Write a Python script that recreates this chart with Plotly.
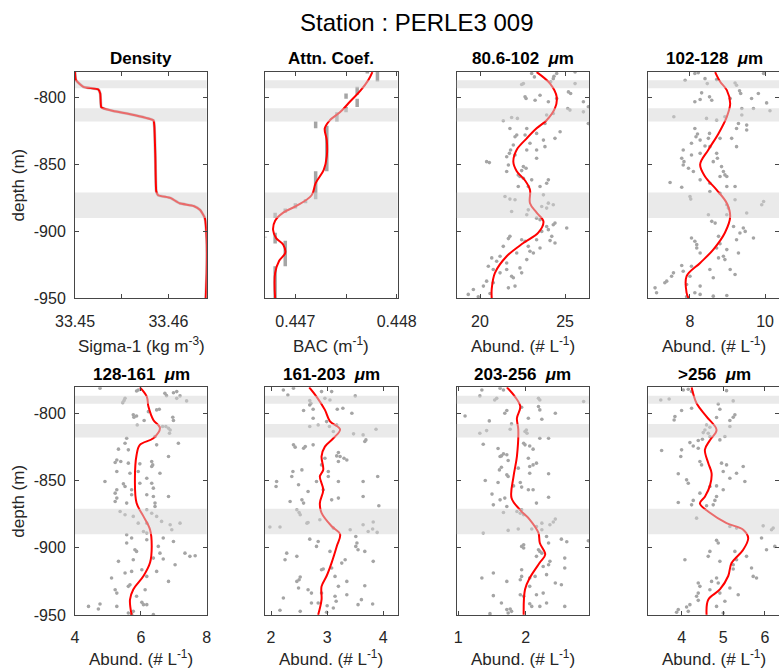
import plotly.graph_objects as go

W, H = 779, 671
FONT = "Liberation Sans, Arial, Helvetica, sans-serif"
AX = "rgb(70,70,70)"
GREY = "rgb(165,165,165)"

# ---------------- data ----------------
title_text = "Station : PERLE3 009"
panel_titles = ["Density", "Attn. Coef.", "80.6-102&nbsp; <i>μ</i>m", "102-128&nbsp; <i>μ</i>m",
                "128-161&nbsp; <i>μ</i>m", "161-203&nbsp; <i>μ</i>m", "203-256&nbsp; <i>μ</i>m",
                "&gt;256&nbsp; <i>μ</i>m"]
x_labels = ["Sigma-1 (kg m<sup>-3</sup>)", "BAC (m<sup>-1</sup>)", "Abund. (# L<sup>-1</sup>)",
            "Abund. (# L<sup>-1</sup>)", "Abund. (# L<sup>-1</sup>)", "Abund. (# L<sup>-1</sup>)",
            "Abund. (# L<sup>-1</sup>)", "Abund. (# L<sup>-1</sup>)"]
y_label = "depth (m)"
depth_ticks = [-950, -900, -850, -800]
depth_range = [-950, -780.7]
x_ranges = [[33.45, 33.4641], [0.4467, 0.44801], [18.63, 26.41], [6.89, 10.37],
            [4, 8], [1.893, 4.256], [0.976, 2.94], [3.2, 6.34]]
x_tickvals = [[33.45, 33.455, 33.46], [0.447, 0.4475, 0.448], [20, 25], [8, 10],
              [4, 6, 8], [2, 3, 4], [1, 2], [4, 5, 6]]
x_ticktext = [["33.45", "", "33.46"], ["0.447", "", "0.448"], ["20", "25"], ["8", "10"],
              ["4", "6", "8"], ["2", "3", "4"], ["1", "2"], ["4", "5", "6"]]

# grey bands (depth intervals)
band_top = [-787, -808, -871]
band_bot = [-793, -818, -890]

# Density profile
dens_depth = [-781, -787, -792, -794, -797, -807, -808, -810, -813, -817, -822, -844, -870,
              -873, -875, -879, -881, -884, -890, -906, -931, -950]
dens_val = [33.4500, 33.4501, 33.4509, 33.4525, 33.4527, 33.4528, 33.4530, 33.4541, 33.4563,
            33.4584, 33.4585, 33.4586, 33.4587, 33.4589, 33.4602, 33.4612, 33.4627, 33.4634,
            33.4639, 33.4641, 33.4641, 33.4640]

# Attenuation: raw (quantized) segments and smoothed line
attn_seg_val = [0.44771, 0.44781, 0.44761, 0.44750, 0.44761, 0.44750, 0.44741, 0.44720, 0.44731,
                0.44720, 0.44710, 0.44700, 0.44690, 0.44680, 0.44680, 0.44690, 0.44680, 0.44670]
attn_seg_top = [-781, -781, -792, -797, -801, -807, -811, -818, -821, -855, -876, -879, -883,
                -886, -901, -907, -926, -904]
attn_seg_bot = [-782, -788, -798, -801, -807, -811, -818, -823, -855, -876, -879, -883, -886,
                -890, -909, -926, -950, -904.5]
attn_line_depth = [-781, -787, -795, -803, -811, -817, -823, -832, -844, -854, -864, -873, -881,
                   -886, -892, -899, -905, -910, -916, -922, -931, -950]
attn_line_val = [0.44776, 0.44772, 0.44764, 0.44754, 0.44744, 0.44734, 0.44729, 0.44731, 0.44731,
                 0.44728, 0.44720, 0.44716, 0.44701, 0.44688, 0.44680, 0.44678, 0.44681, 0.44688,
                 0.44690, 0.44684, 0.44680, 0.44680]

# 80.6-102 um
s3_depth = [-782.1, -784.6, -782.1, -784.1, -780.9, -785.9, -788.3, -789.6, -789.6, -790.3, -799.5,
            -800.7, -802.0, -795.8, -797.0, -798.3, -800.7, -803.2, -808.2, -809.4, -810.7, -806.9,
            -819.4, -803.2, -814.9, -815.6, -817.4, -823.1, -823.1, -811.9, -813.1, -828.0, -829.3,
            -828.0, -826.8, -831.8, -830.5, -825.6, -819.4, -835.5, -839.2, -841.7, -842.9, -839.2,
            -839.2, -836.7, -834.2, -844.2, -845.4, -847.9, -848.6, -850.4, -851.6, -852.8, -855.3,
            -857.8, -859.0, -854.6, -860.3, -861.5, -861.5, -864.0, -866.5, -866.5, -866.5, -873.9,
            -875.9, -876.4, -872.7, -878.9, -880.1, -881.4, -882.6, -883.9, -885.1, -887.6, -890.1,
            -891.3, -893.8, -895.0, -896.3, -897.5, -898.7, -900.0, -903.7, -903.7, -905.4, -906.2,
            -907.4, -906.2, -906.9, -908.7, -911.2, -911.2, -912.4, -914.9, -916.1, -916.1, -919.8,
            -918.6, -922.3, -923.6, -921.1, -927.3, -928.5, -931.0, -933.5, -934.7, -926.0, -928.5,
            -931.0, -940.9, -937.2, -938.4, -942.2, -940.9, -943.4, -947.1, -948.9, -946.4]
s3_val = [23.04, 23.20, 24.51, 24.35, 25.59, 24.31, 24.16, 25.59, 22.55, 22.45, 22.65,
          22.71, 23.24, 25.20, 25.33, 23.53, 24.51, 26.08, 25.16, 25.29, 26.08, 26.37,
          26.37, 24.02, 21.86, 22.20, 21.37, 21.76, 22.75, 24.31, 23.92, 22.16, 22.06,
          22.65, 23.33, 23.73, 24.41, 24.71, 23.82, 21.96, 21.80, 21.73, 22.06, 22.75,
          23.33, 23.82, 22.94, 21.57, 23.33, 20.39, 20.55, 21.67, 22.55, 22.71, 21.57,
          22.25, 22.35, 22.45, 22.55, 23.04, 24.02, 23.92, 22.84, 22.25, 23.53, 21.47,
          21.76, 22.06, 23.73, 24.02, 24.31, 23.63, 23.92, 22.84, 21.86, 22.75, 23.33,
          23.53, 24.41, 24.31, 23.92, 25.10, 24.02, 23.63, 24.22, 21.76, 21.67, 22.45,
          22.65, 23.33, 24.12, 24.41, 21.37, 22.84, 23.53, 22.94, 23.14, 22.16, 20.69,
          21.18, 20.98, 21.57, 22.75, 22.35, 21.57, 21.18, 21.86, 21.96, 20.49, 20.78,
          22.45, 20.20, 20.39, 20.78, 21.67, 22.06, 19.61, 19.31, 19.90, 20.59]
s3_line_depth = [-781, -789.6, -799.5, -808, -817, -823, -830.5, -839, -848, -855, -862, -869,
                 -879, -886, -892.6, -901, -908.7, -918.6, -931, -943, -950]
s3_line_val = [23.33, 24.12, 24.51, 24.41, 23.92, 23.33, 22.75, 22.16, 21.96, 22.16, 22.65, 22.94,
               22.94, 23.33, 23.73, 23.43, 22.55, 21.57, 20.88, 20.69, 20.69]

# 102-128 um
s4_depth = [-781.4, -782.1, -787.1, -785.9, -786.6, -789.1, -790.8, -782.1, -789.6, -796.5, -799.5,
            -802.0, -803.2, -795.0, -797.0, -797.0, -800.7, -804.0, -809.9, -808.2, -808.2, -801.5,
            -800.7, -814.4, -815.6, -816.9, -814.4, -813.1, -819.4, -823.1, -820.6, -824.3, -823.1,
            -827.3, -829.3, -831.8, -826.8, -830.5, -830.5, -836.2, -836.7, -836.7, -830.5, -834.2,
            -839.2, -845.4, -847.9, -850.4, -852.8, -855.3, -842.9, -841.7, -841.7, -845.4, -847.9,
            -859.0, -855.3, -857.8, -859.0, -851.6, -863.5, -867.0, -873.9, -875.9, -861.5, -864.0,
            -866.5, -866.5, -871.5, -870.2, -880.1, -882.6, -877.7, -880.1, -876.4, -886.3, -887.6,
            -892.5, -893.8, -887.6, -896.3, -897.5, -900.0, -901.2, -906.2, -904.9, -903.7, -909.2,
            -904.9, -907.4, -912.4, -916.1, -912.4, -918.6, -919.8, -921.1, -916.1, -913.6, -909.9,
            -925.5, -926.0, -929.8, -928.5, -928.5, -932.2, -933.5, -934.7, -931.0, -933.5, -937.2,
            -938.4, -942.2, -945.9, -939.7, -940.9, -945.9, -948.4, -947.1, -947.9, -948.9]
s4_val = [8.22, 8.13, 7.87, 8.40, 8.71, 9.20, 9.24, 9.96, 8.46, 8.31, 8.52,
          8.58, 8.13, 9.32, 9.35, 9.82, 9.64, 10.04, 10.13, 9.38, 9.69, 8.27,
          9.07, 7.57, 8.44, 8.71, 8.93, 9.38, 9.29, 9.24, 9.51, 9.51, 8.13,
          8.20, 8.16, 8.27, 8.52, 8.49, 8.80, 8.40, 8.53, 9.24, 9.11, 8.04,
          7.82, 7.78, 7.84, 7.82, 7.96, 8.09, 8.04, 8.27, 8.71, 8.73, 8.62,
          8.80, 8.89, 8.93, 8.98, 8.84, 7.47, 7.78, 8.00, 8.02, 8.27, 8.53,
          8.98, 9.20, 8.80, 8.53, 8.98, 9.02, 9.96, 9.91, 9.20, 9.51, 8.49,
          8.58, 8.67, 8.98, 9.16, 9.42, 9.47, 9.33, 9.24, 9.69, 8.76, 8.80,
          8.04, 8.13, 8.18, 8.27, 8.71, 8.89, 8.76, 8.93, 9.29, 8.98, 8.18,
          7.78, 8.04, 7.82, 8.53, 9.07, 9.20, 8.00, 8.62, 7.56, 7.51, 7.38,
          7.33, 7.07, 7.11, 7.91, 8.27, 8.13, 8.62, 8.27, 8.98, 7.91]
s4_line_depth = [-781, -788, -794.5, -804.5, -814.4, -826.8, -839, -850, -859, -869, -879, -889,
                 -901, -913.6, -923.6, -933.5, -946, -950]
s4_line_val = [8.67, 8.80, 8.98, 9.07, 8.98, 8.76, 8.49, 8.27, 8.40, 8.71, 8.98, 9.07,
               8.93, 8.62, 8.27, 7.91, 7.91, 7.96]

# 128-161 um
s5_depth = [-781.4, -783.4, -782.7, -785.2, -786.9, -784.7, -783.9, -787.1, -790.8, -788.9, -788.9,
            -790.6, -792.1, -797.5, -797.0, -798.8, -801.2, -802.0, -803.0, -805.4, -803.0, -805.4,
            -808.7, -809.9, -809.9, -811.1, -814.9, -812.4, -817.3, -818.6, -822.3, -823.5, -822.3,
            -826.7, -827.2, -832.2, -834.7, -836.6, -835.9, -837.1, -837.6, -835.9, -839.6, -838.4,
            -843.3, -844.6, -843.3, -844.6, -850.7, -852.5, -854.5, -852.0, -848.3, -852.0, -855.7,
            -856.9, -859.4, -856.9, -860.6, -860.6, -861.9, -861.9, -863.1, -865.6, -866.8, -869.3,
            -866.8, -871.8, -873.0, -876.7, -875.5, -881.7, -881.7, -874.3, -876.7, -880.4, -881.7,
            -886.6, -882.9, -887.9, -889.1, -890.3, -892.8, -892.8, -895.3, -894.1, -896.5, -899.0,
            -901.5, -902.7, -904.0, -904.0, -907.7, -910.1, -908.9, -908.4, -912.6, -906.4, -905.9,
            -916.3, -918.8, -917.6, -917.6, -921.3, -922.5, -925.0, -927.5, -928.7, -931.2, -931.2,
            -933.7, -936.1, -940.6, -942.3, -942.3, -943.6, -945.5, -943.6, -941.8, -947.3, -948.5,
            -949.7, -949.7]
s5_val = [4.76, 5.87, 5.92, 6.73, 6.78, 6.99, 7.09, 7.19, 7.39, 7.09, 5.52,
          5.49, 5.45, 6.48, 6.56, 6.23, 5.77, 5.87, 5.79, 6.10, 6.97, 6.99,
          5.89, 6.66, 6.76, 6.84, 6.87, 6.89, 6.43, 5.57, 5.52, 6.48, 7.14,
          5.32, 5.62, 6.84, 5.27, 5.22, 5.39, 5.62, 5.97, 6.33, 6.33, 6.36,
          5.27, 5.67, 5.92, 6.58, 4.91, 5.47, 5.52, 5.97, 6.18, 6.33, 6.38,
          5.27, 5.22, 5.72, 5.72, 6.18, 6.38, 6.84, 5.27, 5.22, 6.43, 6.43,
          5.57, 6.18, 5.37, 5.77, 5.52, 5.92, 6.18, 6.33, 6.48, 6.63, 7.19,
          6.94, 6.89, 6.08, 6.18, 5.57, 5.72, 6.68, 6.99, 6.18, 5.57, 6.53,
          5.82, 5.87, 6.58, 7.34, 6.38, 5.32, 5.77, 6.68, 7.04, 7.49, 7.65,
          6.03, 5.52, 5.72, 6.48, 6.18, 5.11, 6.84, 5.67, 5.62, 6.13, 5.22,
          5.27, 5.87, 6.03, 6.08, 6.18, 5.27, 4.71, 4.41, 4.76, 5.77, 5.62,
          5.72, 6.38]
s5_line_depth = [-780.7, -787.6, -795, -805, -811, -818.6, -823.5, -831, -849.5, -866.8, -876.7,
                 -886.6, -899, -911, -921, -931, -938.6, -949.8]
s5_line_val = [5.97, 6.18, 6.23, 6.38, 6.58, 6.38, 5.97, 5.87, 5.82, 5.87, 6.08,
               6.28, 6.33, 6.28, 6.08, 5.77, 5.67, 5.72]

# 161-203 um
s6_depth = [-782.7, -781.4, -786.4, -790.6, -792.6, -793.8, -783.9, -783.9, -788.9, -790.1, -787.1,
            -798.0, -797.0, -797.0, -796.3, -800.0, -803.7, -809.9, -808.7, -806.2, -809.9, -808.7,
            -813.6, -815.3, -816.1, -819.8, -821.0, -811.9, -823.5, -825.2, -826.0, -824.8, -823.5,
            -829.2, -832.2, -833.4, -834.7, -835.9, -831.7, -833.4, -838.4, -842.1, -843.3, -847.0,
            -843.3, -847.0, -850.7, -850.7, -854.5, -853.2, -850.7, -850.7, -847.0, -856.9, -858.2,
            -865.6, -864.4, -866.8, -864.4, -863.1, -861.9, -868.8, -871.8, -873.8, -875.5, -881.7,
            -881.2, -884.6, -884.6, -879.2, -885.4, -882.9, -880.9, -886.1, -887.9, -888.6, -886.6,
            -893.6, -895.3, -891.6, -896.5, -899.0, -899.0, -901.5, -904.0, -908.9, -906.4, -902.7,
            -902.7, -910.1, -908.9, -911.4, -915.1, -915.8, -916.3, -921.3, -921.8, -923.8, -925.0,
            -929.9, -931.2, -933.7, -933.7, -925.0, -928.7, -928.2, -938.6, -942.3, -936.1, -939.8,
            -943.1, -944.8, -941.1, -941.1, -937.4, -946.5, -947.3, -948.0, -941.8, -934.9]
s6_val = [2.22, 2.40, 2.30, 2.69, 2.71, 2.69, 2.90, 3.08, 2.96, 3.05, 3.50,
          2.58, 2.75, 3.18, 3.28, 3.44, 2.75, 2.69, 2.84, 2.99, 3.04, 3.17,
          3.11, 3.47, 3.64, 3.69, 3.67, 3.87, 2.40, 2.43, 2.58, 2.61, 2.75,
          3.20, 3.23, 3.30, 3.35, 3.20, 3.17, 2.96, 2.90, 2.55, 2.39, 2.37,
          3.02, 3.02, 2.81, 2.10, 2.09, 2.49, 3.20, 3.64, 3.90, 2.93, 2.66,
          2.34, 2.55, 2.58, 3.08, 3.20, 3.64, 3.92, 2.46, 2.50, 2.52, 2.64,
          2.66, 2.16, 1.98, 2.87, 3.11, 3.64, 3.82, 3.81, 3.73, 3.89, 3.41,
          2.69, 2.84, 3.51, 3.53, 3.51, 2.81, 3.55, 2.28, 2.25, 2.46, 3.05,
          3.67, 3.82, 3.32, 3.26, 3.08, 2.93, 2.90, 3.14, 2.52, 2.50, 2.46,
          2.49, 2.66, 2.72, 2.90, 3.35, 3.20, 3.67, 3.61, 3.55, 3.14, 3.16,
          3.00, 3.11, 2.84, 2.72, 2.22, 2.16, 2.52, 2.99, 3.81, 3.35]
s6_line_depth = [-780.7, -787.6, -797.5, -806, -812, -818.6, -824.8, -832, -842, -847, -857,
                 -866.8, -874, -884, -890, -899, -911, -921, -928.7, -938.6, -949.8]
s6_line_val = [2.68, 2.81, 2.96, 3.05, 3.23, 3.11, 2.96, 2.90, 2.93, 2.87, 2.93,
               2.87, 2.90, 3.08, 3.23, 3.17, 3.08, 2.99, 2.90, 2.90, 2.84]

# 203-256 um
s7_depth = [-782.7, -787.1, -781.4, -782.7, -790.1, -788.9, -788.9, -790.1, -791.3, -795.5, -798.0,
            -800.0, -795.0, -797.5, -802.0, -805.7, -803.7, -804.5, -800.0, -807.9, -811.9, -812.4,
            -814.9, -813.6, -812.9, -814.9, -818.6, -818.6, -823.0, -822.3, -823.5, -824.3, -826.2,
            -830.2, -832.2, -831.7, -830.9, -826.7, -833.4, -835.1, -838.4, -837.1, -839.6, -840.1,
            -842.1, -840.8, -845.8, -847.0, -845.0, -844.6, -850.0, -851.5, -851.5, -854.0, -854.9,
            -856.9, -860.1, -864.4, -863.1, -856.9, -866.8, -862.4, -868.1, -869.3, -873.8, -873.0,
            -874.3, -875.5, -871.8, -878.7, -880.9, -882.9, -881.7, -884.2, -886.1, -886.1, -887.1,
            -889.1, -886.6, -891.6, -896.5, -893.6, -895.5, -894.8, -897.8, -900.2, -899.0, -901.5,
            -902.7, -904.0, -906.4, -907.7, -910.1, -913.9, -912.6, -915.1, -916.3, -918.8, -922.5,
            -921.3, -923.8, -922.5, -921.3, -920.0, -926.2, -927.5, -925.0, -928.7, -935.6, -934.9,
            -936.1, -933.7, -934.9, -941.1, -941.6, -943.6, -941.1, -945.5, -947.3, -946.0, -948.5,
            -949.0, -943.6, -943.6]
s7_val = [1.35, 1.32, 1.62, 1.67, 1.54, 1.57, 2.19, 2.21, 2.86, 1.94, 1.72,
          1.69, 2.19, 2.21, 1.10, 1.46, 2.04, 2.24, 2.44, 1.79, 1.77, 2.01,
          2.02, 1.99, 1.42, 1.32, 2.21, 2.34, 1.37, 1.97, 1.99, 2.06, 1.59,
          1.67, 1.62, 1.64, 1.72, 2.11, 2.04, 1.74, 2.11, 2.16, 2.06, 1.64,
          1.61, 1.89, 1.72, 1.74, 2.34, 2.06, 1.40, 1.59, 1.92, 1.82, 1.94,
          2.11, 1.50, 1.62, 1.69, 2.04, 2.16, 2.34, 1.52, 1.72, 1.67, 1.87,
          1.92, 1.97, 1.94, 2.44, 2.41, 2.36, 2.24, 2.16, 2.09, 1.89, 1.74,
          1.37, 2.24, 2.31, 2.34, 2.53, 2.61, 2.93, 1.97, 1.97, 1.94, 2.19,
          2.21, 2.24, 2.16, 2.58, 2.36, 2.26, 2.34, 2.58, 1.94, 1.52, 1.35,
          1.94, 1.92, 2.06, 2.14, 2.31, 2.44, 2.53, 1.72, 2.06, 1.52, 1.92,
          1.97, 2.26, 2.16, 1.64, 2.06, 2.09, 2.31, 1.77, 1.79, 1.72, 1.74,
          1.47, 2.58, 2.21]
s7_line_depth = [-780.7, -787.6, -795, -803.7, -812, -832, -847, -863, -872, -879, -889, -896.5,
                 -905, -911, -922.5, -931, -949.8]
s7_line_val = [1.72, 1.84, 1.92, 1.87, 1.89, 1.87, 1.82, 1.79, 1.92, 2.06, 2.19, 2.21,
               2.29, 2.21, 2.06, 1.99, 1.97]

# >256 um
s8_depth = [-782.7, -782.2, -783.9, -783.2, -790.1, -789.4, -798.0, -796.3, -793.1, -790.8, -797.0,
            -801.2, -803.0, -805.4, -802.5, -805.0, -803.2, -808.7, -812.4, -814.4, -817.3, -819.3,
            -820.3, -814.9, -810.4, -809.9, -817.3, -819.8, -821.8, -824.3, -826.0, -827.2, -827.7,
            -832.2, -835.9, -838.4, -837.1, -838.4, -843.3, -839.6, -844.6, -848.3, -845.0, -849.5,
            -852.0, -850.7, -854.0, -854.5, -859.4, -856.9, -861.9, -864.8, -864.8, -868.1, -866.3,
            -868.8, -868.1, -878.0, -884.2, -883.7, -886.6, -885.4, -892.8, -885.4, -894.5, -896.5,
            -899.0, -901.5, -908.9, -902.7, -906.4, -902.7, -908.9, -906.4, -910.1, -912.6, -915.1,
            -922.5, -925.0, -926.2, -915.8, -921.3, -922.5, -926.2, -928.7, -931.2, -929.9, -934.9,
            -933.7, -933.7, -936.1, -939.8, -942.3, -944.1, -939.1, -946.0, -948.0, -947.3, -943.6,
            -948.5]
s8_val = [4.04, 4.16, 4.24, 5.08, 3.50, 3.70, 4.00, 4.24, 4.88, 5.24, 4.92,
          5.28, 5.24, 5.16, 3.84, 3.82, 4.84, 4.60, 4.56, 4.52, 4.68, 4.50,
          4.40, 4.64, 4.68, 5.16, 5.04, 4.92, 4.20, 4.28, 4.40, 4.00, 3.52,
          3.98, 4.44, 4.48, 4.96, 5.08, 5.00, 5.48, 5.32, 5.16, 3.92, 4.12,
          4.16, 5.52, 4.84, 4.68, 4.44, 5.00, 4.84, 4.80, 4.28, 4.24, 3.92,
          4.60, 4.76, 4.36, 5.16, 5.96, 6.16, 6.20, 5.92, 5.32, 4.84, 4.88,
          6.24, 6.04, 4.08, 4.68, 4.64, 5.28, 5.32, 5.56, 4.92, 5.24, 5.68,
          4.84, 4.72, 4.88, 5.24, 5.72, 5.80, 4.40, 4.44, 4.68, 5.16, 5.36,
          4.92, 4.40, 4.36, 5.04, 4.20, 4.12, 4.40, 3.92, 3.88, 4.16, 4.84,
          5.00]
s8_line_depth = [-780.7, -792.6, -802.5, -812.4, -820, -827, -837, -844.5, -854, -862, -867,
                 -874, -881.7, -886.6, -892.8, -901.5, -911.4, -921, -931, -938.6, -949.8]
s8_line_val = [4.24, 4.36, 4.60, 4.84, 4.68, 4.56, 4.64, 4.72, 4.68, 4.56, 4.44,
               4.68, 5.08, 5.48, 5.60, 5.48, 5.20, 5.12, 4.92, 4.64, 4.60]

# ---------------- figure ----------------
col_px = [(75, 206.7), (265, 397.7), (456.7, 589), (648.3, 779)]
row_px = [(71.7, 298.3), (387.3, 615)]
label_drop = [47, 43]


def sfx(k):
    return "" if k == 1 else str(k)


fig = go.Figure()


def add_points(k, vals, depths):
    fig.add_trace(go.Scatter(x=vals, y=depths, mode="markers", xaxis="x" + sfx(k), yaxis="y" + sfx(k),
                             marker=dict(size=3.6, color=GREY, line=dict(width=0)),
                             showlegend=False, hoverinfo="skip"))


def add_line(k, vals, depths, smooth=1.0):
    fig.add_trace(go.Scatter(x=vals, y=depths, mode="lines", xaxis="x" + sfx(k), yaxis="y" + sfx(k),
                             line=dict(color="rgb(255,0,0)", width=2, shape="spline", smoothing=smooth),
                             showlegend=False, hoverinfo="skip"))


# Density
fig.add_trace(go.Scatter(x=dens_val, y=dens_depth, mode="lines", xaxis="x", yaxis="y",
                         line=dict(color="rgb(200,200,200)", width=3, shape="spline", smoothing=0.4),
                         showlegend=False, hoverinfo="skip"))
add_line(1, dens_val, dens_depth, smooth=0.4)

# Attenuation raw segments
seg_x, seg_y = [], []
for v, t, b in zip(attn_seg_val, attn_seg_top, attn_seg_bot):
    seg_x += [v, v, None]
    seg_y += [t, b, None]
fig.add_trace(go.Scatter(x=seg_x, y=seg_y, mode="lines", xaxis="x2", yaxis="y2",
                         line=dict(color=GREY, width=3.5), showlegend=False, hoverinfo="skip"))
add_line(2, attn_line_val, attn_line_depth)

for k, (v, d, lv, ld) in zip(range(3, 9), [
        (s3_val, s3_depth, s3_line_val, s3_line_depth),
        (s4_val, s4_depth, s4_line_val, s4_line_depth),
        (s5_val, s5_depth, s5_line_val, s5_line_depth),
        (s6_val, s6_depth, s6_line_val, s6_line_depth),
        (s7_val, s7_depth, s7_line_val, s7_line_depth),
        (s8_val, s8_depth, s8_line_val, s8_line_depth)]):
    add_points(k, v, d)
    add_line(k, lv, ld)

layout = dict(template="none", width=W, height=H,
              margin=dict(l=0, r=0, t=0, b=0, pad=0, autoexpand=False),
              paper_bgcolor="white", plot_bgcolor="white", showlegend=False,
              font=dict(family=FONT, color="rgb(38,38,38)", size=16))
annotations = []
shapes = []
for i in range(8):
    k = i + 1
    r, c = divmod(i, 4)
    x0, x1 = col_px[c]
    ytop, ybot = row_px[r]
    common = dict(showline=True, mirror="ticks", linecolor=AX, linewidth=1,
                  ticks="inside", ticklen=4, tickwidth=1, tickcolor=AX,
                  showgrid=False, zeroline=False, fixedrange=True, automargin=False,
                  tickfont=dict(family=FONT, size=16, color="rgb(38,38,38)"))
    layout["xaxis" + sfx(k)] = dict(common, domain=[x0 / W, min(x1 / W, 1.0)], range=x_ranges[i],
                                    anchor="y" + sfx(k), tickmode="array", tickvals=x_tickvals[i],
                                    ticktext=x_ticktext[i], ticklabelstandoff=8)
    layout["yaxis" + sfx(k)] = dict(common, domain=[1 - ybot / H, 1 - ytop / H], range=depth_range,
                                    anchor="x" + sfx(k), tickmode="array", tickvals=depth_ticks,
                                    ticktext=[str(t) for t in depth_ticks],
                                    showticklabels=(c == 0), ticklabelstandoff=5)
    annotations.append(dict(text=f"<b>{panel_titles[i]}</b>", x=(x0 + 132 / 2) / W,
                            y=1 - (ytop - 13) / H, xref="paper", yref="paper",
                            xanchor="center", yanchor="middle", showarrow=False,
                            font=dict(family=FONT, size=17, color="black")))
    annotations.append(dict(text=x_labels[i], x=(x0 + 132 / 2) / W,
                            y=1 - (ybot + label_drop[r]) / H, xref="paper", yref="paper",
                            xanchor="center", yanchor="middle", showarrow=False,
                            font=dict(family=FONT, size=17, color="rgb(38,38,38)")))
    for bt, bb in zip(band_top, band_bot):
        shapes.append(dict(type="rect", xref="x" + sfx(k) + " domain", yref="y" + sfx(k), x0=0, x1=1,
                           y0=bb, y1=bt, fillcolor="rgba(214,214,214,0.5)",
                           line=dict(width=0), layer="above"))

for r in range(2):
    ytop, ybot = row_px[r]
    annotations.append(dict(text=y_label, x=18.5 / W, y=1 - ((ytop + ybot) / 2) / H,
                            xref="paper", yref="paper", xanchor="center", yanchor="middle",
                            textangle=-90, showarrow=False,
                            font=dict(family=FONT, size=17, color="rgb(38,38,38)")))

annotations.append(dict(text=title_text, x=417 / W, y=1 - 22 / H, xref="paper", yref="paper",
                        xanchor="center", yanchor="middle", showarrow=False,
                        font=dict(family=FONT, size=24, color="black")))

layout["annotations"] = annotations
layout["shapes"] = shapes
fig.update_layout(**layout)
fig.write_html("out.html", config={"displayModeBar": False},
               post_script="document.body.style.margin='0';document.body.style.overflow='hidden';")
